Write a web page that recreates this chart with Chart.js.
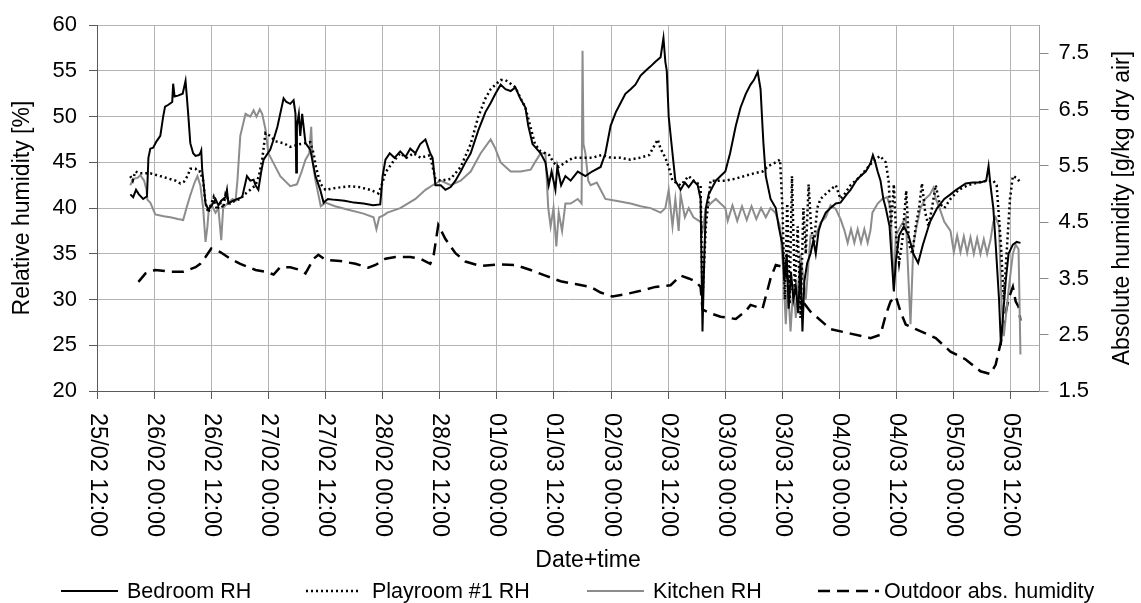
<!DOCTYPE html>
<html>
<head>
<meta charset="utf-8">
<title>Relative and absolute humidity</title>
<script src="https://cdn.jsdelivr.net/npm/chart.js@4.4.0/dist/chart.umd.min.js"></script>
<style>
  body { margin: 0; background: #fff; }
</style>
</head>
<body>
<canvas id="humidityChart" width="1141" height="603"></canvas>
<script>
// x = hours since 25/02 12:00
const tickLabels = ['25/02 12:00', '26/02 00:00', '26/02 12:00', '27/02 00:00', '27/02 12:00',
  '28/02 00:00', '28/02 12:00', '01/03 00:00', '01/03 12:00', '02/03 00:00', '02/03 12:00',
  '03/03 00:00', '03/03 12:00', '04/03 00:00', '04/03 12:00', '05/03 00:00', '05/03 12:00'];
const tickHours = tickLabels.map((l, i) => i * 12);
const rhTicks = [20, 25, 30, 35, 40, 45, 50, 55, 60];
const absTicks = [1.5, 2.5, 3.5, 4.5, 5.5, 6.5, 7.5];

// [hour, RH %]
const bedroomRH = [[7.0,41.5],[7.6,41.2],[8.2,42.0],[8.8,41.5],[9.7,41.0],[10.5,41.3],[10.8,45.5],[11.2,46.5],[11.8,46.6],[12.5,47.3],[13.3,47.9],[13.9,50.0],[14.3,51.1],[15.0,51.3],[15.8,51.6],[16.0,53.6],[16.3,52.2],[17.0,52.3],[18.0,52.5],[18.6,53.9],[18.9,52.0],[19.2,50.0],[19.6,47.1],[20.2,46.0],[20.7,45.7],[21.4,45.8],[21.7,46.0],[21.9,46.3],[22.1,44.2],[22.8,40.5],[23.4,39.8],[24.0,40.2],[24.9,41.0],[25.5,40.3],[26.1,40.8],[27.0,41.2],[27.3,42.0],[27.6,40.5],[28.5,40.8],[29.5,41.0],[30.5,41.2],[31.5,43.5],[32.2,43.0],[32.9,43.1],[33.3,42.5],[33.9,42.0],[34.5,44.0],[35.0,45.3],[36.4,46.4],[37.1,47.5],[37.9,48.9],[39.2,52.0],[39.8,51.6],[40.6,51.4],[41.3,51.8],[41.7,50.3],[41.85,43.9],[42.0,49.0],[42.4,50.3],[42.7,47.9],[43.1,50.3],[43.8,47.1],[44.8,46.4],[45.9,43.5],[46.9,42.0],[47.6,40.6],[48.5,41.0],[50.0,40.9],[52.0,40.8],[54.0,40.6],[56.0,40.5],[58.0,40.3],[59.5,40.4],[60.0,43.5],[60.6,45.3],[61.5,46.0],[62.5,45.5],[63.7,46.2],[64.8,45.6],[65.8,46.5],[66.9,46.0],[67.9,47.0],[69.0,47.5],[70.0,46.0],[70.5,45.5],[71.1,42.5],[72.2,42.5],[73.2,42.0],[74.3,42.3],[75.3,43.0],[76.4,44.0],[77.4,45.0],[78.5,46.0],[80.1,48.5],[81.6,50.5],[82.7,51.5],[83.7,52.5],[84.8,53.5],[85.8,53.0],[86.9,52.8],[87.9,53.2],[88.9,52.0],[90.0,51.0],[90.6,49.0],[91.5,47.0],[93.2,46.0],[94.2,45.0],[94.9,42.5],[95.5,44.0],[96.3,42.0],[96.7,44.5],[97.5,42.5],[98.4,43.5],[99.5,43.0],[101.0,44.0],[102.6,43.5],[104.0,44.0],[105.8,44.5],[106.8,46.0],[107.9,49.0],[109.0,50.5],[110.0,51.5],[111.0,52.5],[112.1,53.0],[113.1,53.5],[114.2,54.5],[115.2,55.0],[116.3,55.5],[117.3,56.0],[118.4,56.5],[119.0,58.6],[119.4,56.0],[119.7,55.0],[120.1,50.0],[120.9,46.0],[121.5,43.0],[122.6,42.0],[123.5,42.8],[124.3,42.3],[125.3,43.0],[126.2,42.5],[126.8,41.0],[127.2,26.5],[127.6,35.0],[127.9,40.0],[128.5,41.5],[130.0,43.0],[131.0,43.5],[132.0,44.0],[133.0,46.0],[134.2,49.0],[135.2,51.0],[136.3,52.5],[137.3,53.5],[138.0,54.0],[138.8,54.9],[139.4,53.0],[139.8,49.0],[140.0,47.1],[140.5,43.5],[141.5,41.0],[142.6,40.0],[143.2,38.0],[144.0,36.0],[144.4,32.0],[144.9,35.0],[145.3,29.0],[145.8,33.0],[146.3,30.0],[146.8,31.5],[147.3,28.5],[147.8,34.0],[148.2,26.5],[148.6,32.0],[149.2,34.0],[149.9,35.0],[150.5,36.5],[151.0,35.0],[151.6,37.5],[152.2,38.5],[153.1,39.5],[154.1,40.0],[155.2,40.5],[156.2,40.6],[157.5,41.5],[158.3,42.0],[159.5,43.0],[160.4,43.5],[161.5,44.0],[162.5,44.9],[163.0,45.8],[163.5,45.0],[164.0,44.0],[164.6,43.0],[165.2,41.0],[165.7,40.0],[166.5,38.0],[167.4,30.9],[167.8,34.0],[168.5,37.0],[169.5,38.0],[170.5,37.0],[171.5,35.0],[172.5,34.0],[173.5,36.0],[175.0,38.5],[176.5,40.0],[178.0,41.0],[179.3,41.5],[180.5,42.0],[182.5,42.7],[184.0,42.8],[185.6,42.8],[186.8,43.0],[187.3,44.6],[187.7,42.5],[188.3,40.0],[188.8,36.0],[189.5,30.0],[189.9,25.0],[190.3,28.0],[190.9,32.0],[191.5,35.0],[192.4,36.0],[193.2,36.3],[194.0,36.2]];

const playroomRH = [[7.0,43.5],[7.5,43.0],[8.05,44.0],[9.0,43.8],[11.2,43.8],[13.3,43.5],[16.5,43.0],[17.5,42.7],[18.3,42.9],[19.0,43.5],[19.6,44.3],[20.7,44.3],[21.1,44.0],[21.7,44.0],[22.3,43.0],[22.8,40.5],[23.4,39.5],[24.0,40.5],[24.5,41.2],[25.2,39.8],[26.0,40.6],[26.5,40.0],[27.0,41.5],[28.0,40.5],[29.0,40.8],[30.1,41.0],[31.0,41.5],[32.2,42.0],[33.3,42.5],[34.0,43.5],[34.7,45.3],[35.4,48.2],[36.4,47.9],[37.5,47.3],[39.2,47.1],[40.6,46.7],[42.0,46.9],[42.7,47.0],[44.8,47.2],[45.5,46.0],[46.0,44.5],[46.9,42.7],[48.0,42.0],[50.1,42.2],[53.2,42.4],[55.0,42.3],[57.4,42.0],[59.1,41.6],[59.8,42.5],[60.6,43.9],[62.1,45.0],[63.7,46.0],[65.0,45.5],[66.5,46.0],[68.0,45.5],[70.0,45.8],[70.5,44.5],[71.1,43.2],[72.2,43.0],[74.3,43.2],[76.4,44.5],[78.5,47.0],[80.1,50.0],[81.6,52.0],[82.7,53.0],[83.7,53.5],[84.8,54.0],[85.8,54.0],[86.9,53.6],[87.9,53.2],[89.0,52.0],[90.0,51.0],[91.0,49.0],[92.0,47.0],[93.2,46.2],[94.2,46.0],[95.0,45.8],[95.9,45.0],[97.0,44.5],[98.4,45.0],[100.0,45.5],[102.0,45.5],[104.0,45.5],[106.0,45.8],[108.0,45.5],[110.0,45.5],[112.0,45.3],[114.0,45.5],[116.0,45.8],[117.8,47.5],[118.4,46.5],[119.4,45.5],[120.1,44.5],[120.9,43.0],[122.6,42.5],[124.3,43.5],[125.3,43.0],[126.8,42.5],[127.2,30.0],[127.9,38.0],[128.9,43.0],[130.0,43.0],[132.0,43.0],[134.0,43.2],[136.0,43.5],[138.0,43.8],[139.8,44.0],[141.0,44.6],[142.6,45.0],[143.5,45.3],[144.0,40.0],[144.5,30.0],[145.0,40.5],[145.5,29.5],[146.0,43.5],[146.6,31.0],[147.2,38.0],[147.8,28.0],[148.4,40.0],[148.9,35.0],[149.5,42.6],[150.0,38.0],[150.6,36.0],[151.3,40.0],[152.0,41.0],[153.0,41.5],[154.1,42.0],[155.2,42.5],[156.2,41.0],[157.0,41.5],[158.3,42.5],[160.4,43.5],[162.5,44.8],[163.5,45.3],[164.5,45.7],[165.7,45.0],[166.3,43.0],[166.8,38.0],[167.4,42.6],[167.9,37.0],[168.5,34.0],[169.2,36.5],[170.0,41.9],[170.6,36.0],[171.3,35.0],[172.0,38.0],[172.7,40.0],[173.3,42.7],[174.0,39.5],[174.7,38.0],[175.4,40.0],[176.2,42.5],[177.0,40.5],[178.0,40.0],[179.3,41.0],[181.0,42.0],[183.0,42.5],[185.0,42.8],[187.0,43.0],[188.3,43.0],[189.0,42.5],[189.9,36.0],[190.5,30.0],[191.2,36.0],[191.8,41.0],[192.4,43.5],[193.2,43.3],[194.0,42.8]];

const kitchenRH = [[7.0,42.5],[7.6,43.2],[8.5,43.3],[9.1,43.6],[9.9,43.0],[10.4,42.0],[10.6,40.9],[11.2,40.6],[12.25,39.3],[14.0,39.1],[15.4,39.0],[17.0,38.8],[18.1,38.7],[18.8,40.0],[19.6,41.4],[20.5,42.8],[21.1,43.5],[21.7,42.5],[22.3,40.0],[22.8,36.3],[23.2,38.0],[23.5,40.0],[24.0,40.4],[24.9,39.5],[25.5,40.0],[26.1,36.5],[26.5,40.0],[27.5,40.6],[28.5,41.0],[29.1,40.8],[29.5,43.0],[30.1,47.9],[31.2,50.3],[32.2,50.0],[32.9,50.7],[33.5,50.0],[34.2,50.8],[34.7,50.3],[35.4,48.6],[36.0,46.0],[37.0,45.0],[38.5,43.5],[40.6,42.4],[42.0,42.6],[43.0,44.0],[43.8,45.3],[44.6,46.0],[45.0,48.9],[45.3,45.0],[45.9,43.0],[46.5,41.5],[47.0,40.2],[48.0,40.6],[50.0,40.2],[53.0,39.8],[56.0,39.4],[58.1,39.0],[58.7,37.7],[59.3,39.0],[60.2,39.2],[61.0,39.5],[63.7,40.0],[66.9,41.0],[69.0,42.0],[70.5,42.5],[72.2,43.0],[74.3,42.5],[76.4,43.0],[78.5,44.0],[80.6,46.0],[82.7,47.5],[83.7,46.5],[84.8,45.0],[86.9,44.0],[89.0,44.0],[91.1,44.2],[92.0,45.0],[93.2,46.0],[94.2,46.0],[94.8,40.0],[95.3,38.0],[95.9,40.0],[96.5,35.8],[97.0,39.5],[97.7,37.5],[98.4,40.5],[99.5,40.5],[101.0,41.0],[101.8,40.5],[102.0,57.2],[102.2,47.0],[102.6,46.0],[103.2,43.0],[103.7,42.5],[105.0,42.8],[105.8,42.0],[106.8,41.0],[109.0,40.8],[112.1,40.5],[114.2,40.2],[116.3,40.0],[118.4,39.5],[119.4,40.0],[120.1,42.0],[120.9,38.0],[121.5,41.0],[122.2,37.5],[122.6,41.5],[123.5,39.0],[124.3,40.0],[125.3,39.0],[126.8,38.5],[127.2,37.5],[127.9,40.0],[128.9,40.5],[130.0,41.0],[131.0,40.5],[132.0,40.0],[132.5,38.6],[133.5,40.3],[134.5,38.6],[135.5,40.2],[136.5,38.7],[137.5,40.2],[138.5,38.8],[139.5,40.0],[140.5,39.0],[141.5,40.0],[142.5,39.5],[143.5,38.0],[144.2,33.0],[144.7,27.3],[145.1,32.0],[145.7,26.5],[146.3,31.6],[146.8,28.0],[147.8,35.0],[148.9,30.0],[149.9,37.0],[151.0,37.0],[152.0,38.4],[153.1,39.0],[154.1,40.3],[155.2,39.9],[156.2,38.8],[157.0,37.6],[157.7,36.2],[158.4,37.7],[159.1,36.2],[159.8,37.7],[160.5,36.2],[161.2,37.7],[161.9,36.2],[162.5,37.6],[162.9,39.5],[164.0,40.5],[165.0,41.0],[166.0,41.2],[166.7,40.0],[167.4,31.1],[167.8,37.0],[168.8,38.0],[169.9,39.0],[170.9,27.3],[171.5,36.0],[172.0,37.5],[173.0,40.0],[174.0,41.0],[175.0,41.5],[175.7,42.2],[176.2,41.0],[177.0,40.0],[178.0,38.5],[179.3,37.5],[180.0,35.2],[180.7,37.0],[181.4,35.2],[182.1,36.9],[182.8,35.1],[183.5,36.8],[184.2,35.0],[184.9,36.7],[185.6,35.0],[186.3,36.6],[187.0,35.0],[187.7,36.5],[188.3,38.5],[188.8,39.0],[189.5,38.0],[190.0,30.0],[190.5,26.0],[191.5,31.0],[192.4,35.0],[193.0,36.0],[193.6,35.5],[194.0,24.0]];

// [hour, g/kg dry air]
const outdoorAbs = [[8.7,3.44],[10.2,3.59],[12.25,3.65],[15.4,3.62],[18.1,3.62],[20.7,3.70],[21.7,3.76],[22.8,3.88],[24.0,4.03],[25.9,3.97],[28.0,3.85],[30.1,3.76],[33.3,3.65],[35.4,3.62],[37.1,3.57],[38.5,3.70],[40.6,3.70],[42.7,3.65],[43.8,3.59],[45.5,3.85],[46.5,3.92],[48.0,3.83],[51.1,3.81],[54.3,3.76],[57.0,3.69],[58.5,3.74],[60.6,3.85],[62.7,3.88],[65.8,3.88],[67.9,3.85],[70.0,3.76],[70.7,3.90],[71.7,4.45],[73.2,4.20],[75.3,3.95],[77.4,3.80],[80.6,3.72],[84.8,3.75],[87.9,3.74],[91.1,3.65],[94.2,3.55],[97.4,3.45],[100.5,3.40],[103.7,3.35],[105.8,3.25],[108.3,3.18],[111.0,3.22],[114.2,3.28],[117.3,3.35],[120.5,3.38],[122.6,3.55],[124.3,3.50],[125.7,3.45],[126.8,3.35],[127.2,2.95],[128.9,2.88],[131.0,2.82],[134.2,2.78],[136.3,2.92],[137.3,3.03],[139.8,2.96],[141.5,3.50],[142.6,3.74],[144.2,3.70],[145.7,3.35],[147.8,3.14],[149.9,2.91],[154.1,2.60],[158.3,2.52],[162.5,2.44],[164.6,2.50],[165.7,2.85],[166.7,3.09],[167.8,3.18],[168.8,2.91],[169.9,2.68],[172.0,2.60],[176.2,2.44],[179.3,2.20],[182.5,2.06],[185.6,1.85],[187.7,1.80],[188.8,1.97],[189.9,2.38],[190.5,2.73],[191.5,3.14],[192.4,3.35],[193.0,3.09],[193.6,3.00],[194.0,2.75]];

const FONT = '"Liberation Sans", Arial, sans-serif';
const GRID = '#b4b4b4';
const AXIS = '#5a5a5a';

function toPoints(pairs) {
  return pairs.map(p => ({ x: p[0], y: p[1] }));
}

// Excel style text: rotated date labels, axis titles, legend
const excelText = {
  id: 'excelText',
  afterDraw(chart) {
    const ctx = chart.ctx;
    const area = chart.chartArea;
    const xs = chart.scales.x;
    ctx.save();
    ctx.fillStyle = '#000';
    ctx.textBaseline = 'middle';

    ctx.font = '23.5px ' + FONT;
    ctx.textAlign = 'left';
    tickLabels.forEach((lab, i) => {
      ctx.save();
      ctx.translate(xs.getPixelForValue(tickHours[i]), area.bottom + 22);
      ctx.rotate(Math.PI / 2);
      ctx.fillText(lab, 0, 0);
      ctx.restore();
    });

    ctx.font = '23px ' + FONT;
    ctx.textAlign = 'center';
    ctx.fillText('Date+time', 588, 561);
    const midY = (area.top + area.bottom) / 2;
    [[23, 'Relative humidity [%]'], [1123, 'Absolute humidity [g/kg dry air]']].forEach(t => {
      ctx.save();
      ctx.translate(t[0], midY);
      ctx.rotate(-Math.PI / 2);
      ctx.fillText(t[1], 0, 0);
      ctx.restore();
    });

    // legend
    const legendPos = [[61, 118, 127], [306, 361, 372], [587, 644, 653], [818, 879, 884]];
    const ly = 591;
    ctx.font = '21.5px ' + FONT;
    ctx.textAlign = 'left';
    chart.data.datasets.forEach((ds, i) => {
      const p = legendPos[i];
      ctx.save();
      ctx.strokeStyle = ds.borderColor;
      ctx.lineWidth = ds.borderWidth;
      ctx.setLineDash(ds.borderDash || []);
      ctx.beginPath();
      ctx.moveTo(p[0], ly);
      ctx.lineTo(p[1], ly);
      ctx.stroke();
      ctx.restore();
      ctx.fillText(ds.label, p[2], ly + 1);
    });
    ctx.restore();
  }
};

new Chart(document.getElementById('humidityChart'), {
  type: 'line',
  data: {
    datasets: [
      { label: 'Bedroom RH', data: toPoints(bedroomRH), borderColor: '#000', borderWidth: 2, yAxisID: 'y' },
      { label: 'Playroom #1 RH', data: toPoints(playroomRH), borderColor: '#000', borderWidth: 2.5, borderDash: [2, 3], yAxisID: 'y' },
      { label: 'Kitchen RH', data: toPoints(kitchenRH), borderColor: '#8c8c8c', borderWidth: 2, yAxisID: 'y' },
      { label: 'Outdoor abs. humidity', data: toPoints(outdoorAbs), borderColor: '#000', borderWidth: 2.5, borderDash: [12, 7], yAxisID: 'y2' }
    ]
  },
  options: {
    responsive: false,
    animation: false,
    events: [],
    layout: { padding: { top: 21, left: 0, right: 0, bottom: 0 } },
    elements: { point: { radius: 0 }, line: { tension: 0, fill: false } },
    plugins: { legend: { display: false }, tooltip: { enabled: false } },
    scales: {
      x: {
        type: 'linear',
        min: 0,
        max: 198,
        afterBuildTicks: s => { s.ticks = tickHours.map(v => ({ value: v })); },
        afterFit: s => { s.height = 212; },
        ticks: { display: false },
        grid: { color: GRID, tickColor: AXIS, tickLength: 8 },
        border: { color: AXIS }
      },
      y: {
        position: 'left',
        min: 20,
        max: 60,
        afterBuildTicks: s => { s.ticks = rhTicks.map(v => ({ value: v })); },
        afterFit: s => { s.width = 97; },
        ticks: { color: '#000', font: { family: FONT, size: 22 }, padding: 12 },
        grid: { color: GRID, tickColor: AXIS, tickLength: 8 },
        border: { color: AXIS }
      },
      y2: {
        position: 'right',
        min: 1.5,
        max: 8,
        afterBuildTicks: s => { s.ticks = absTicks.map(v => ({ value: v })); },
        afterFit: s => { s.width = 101.5; },
        ticks: { color: '#000', font: { family: FONT, size: 22 }, padding: 10, callback: v => v.toFixed(1) },
        grid: { drawOnChartArea: false, tickColor: '#8a8a8a', tickLength: 9 },
        border: { color: '#a0a0a0' }
      }
    }
  },
  plugins: [excelText]
});
</script>
</body>
</html>
